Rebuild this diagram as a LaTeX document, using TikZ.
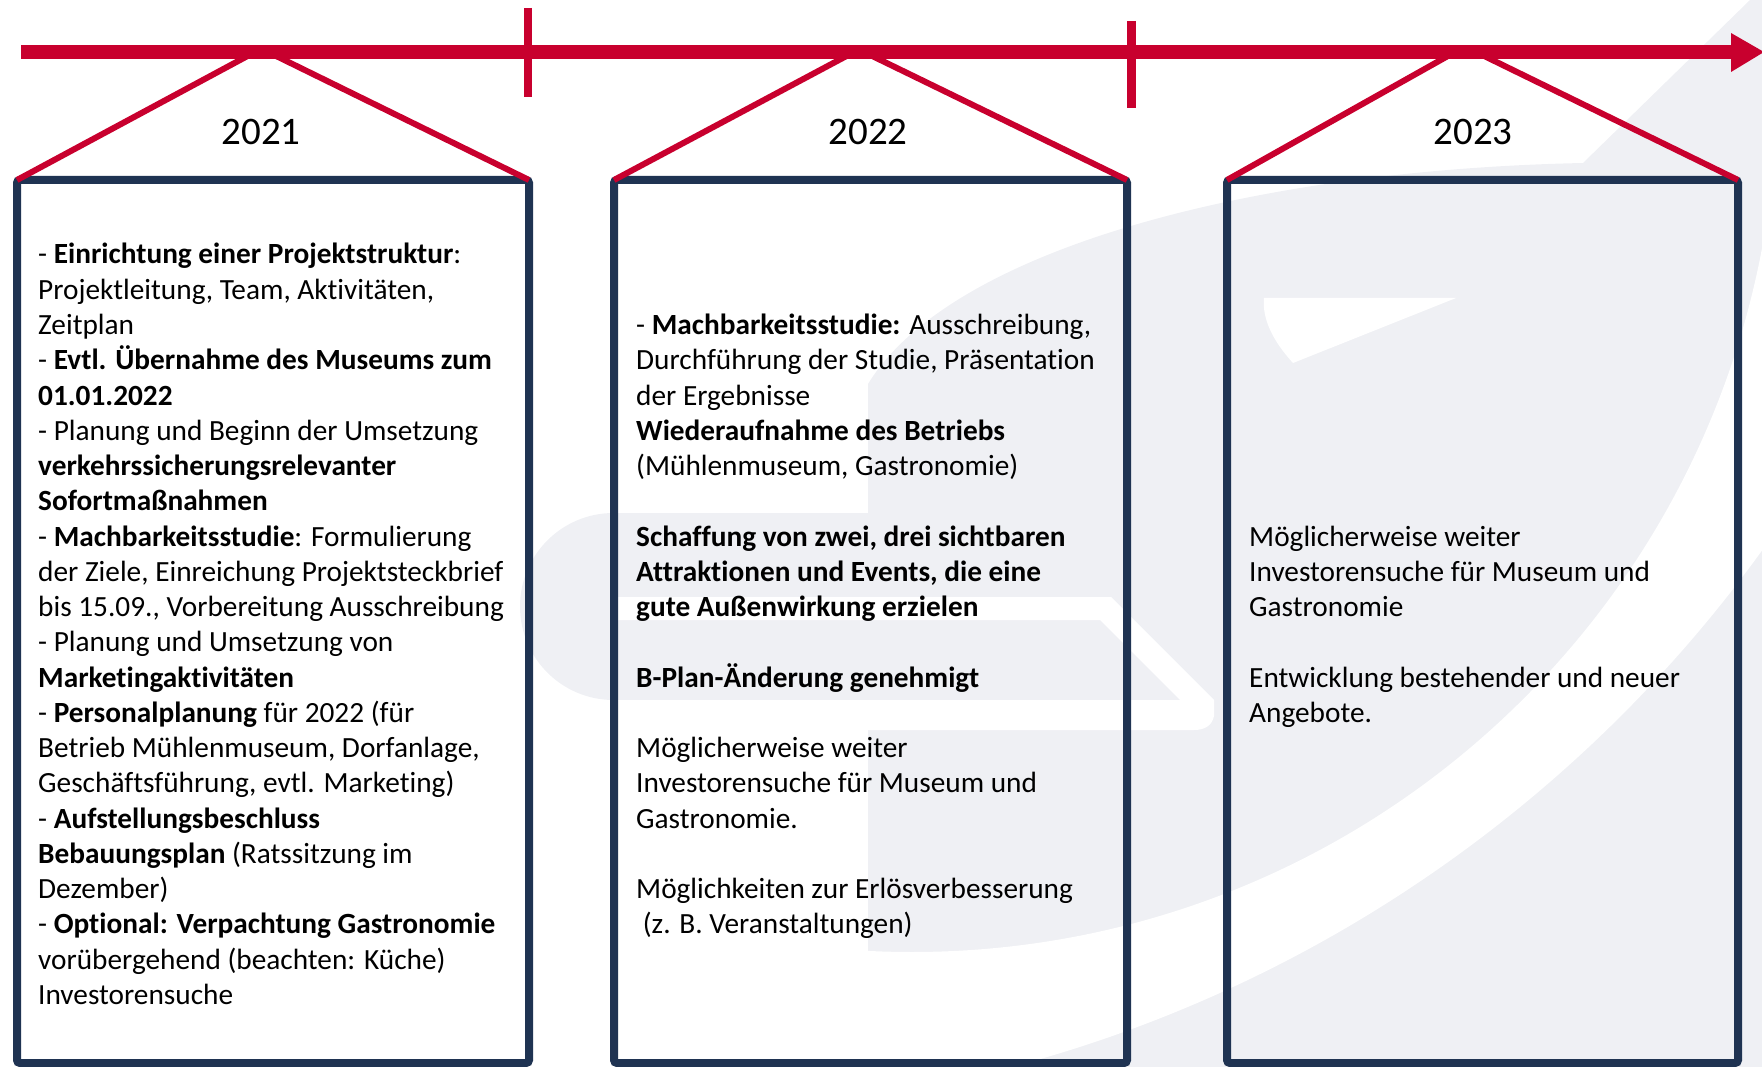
\documentclass[tikz,border=0pt]{standalone}
\usepackage{fontspec}
\setmainfont{Carlito}[Ligatures={NoCommon}]
\definecolor{tlred}{HTML}{C8002E}
\definecolor{navy}{HTML}{1F3352}
\definecolor{wm}{HTML}{EFF0F4}
\newcommand{\Ln}[1]{\hbox{#1}}
\begin{document}
\begin{tikzpicture}[x=1pt,y=-1pt,
  box/.style={draw=navy, line width=8pt, rounded corners=3pt, inner sep=0pt, outer sep=0pt},
  roof/.style={draw=tlred, line width=6pt},
  tickmark/.style={draw=tlred, line width=8.4pt},
  axis/.style={draw=tlred, line width=14pt},
  year/.style={font=\fontsize{39}{47}\selectfont, inner sep=0pt},
  body/.style={font=\fontsize{29.3}{35.26}\selectfont, inner sep=0pt, anchor=base west},
]
\useasboundingbox (0,0) rectangle (1762,1067);
% watermark
\fill[wm] (868,1067) -- (868,384) .. controls (950,250) and (1250,170) .. (1583,163) -- (1750,0) -- (1762,0) -- (1762,1067) -- cycle;
\fill[wm] (613.5,606.5) circle[radius=93.5];
\fill[wm] (613.5,513) rectangle (880,700);
\begin{scope}
  \clip (664,-242) circle[radius=1354];
  \fill[white, even odd rule] (0,0) rectangle (1762,1067) (912,87) circle[radius=865];
\end{scope}
\fill[white] (1264,298) -- (1456,298) -- (1293,363) .. controls (1272,340) and (1262,318) .. (1264,298) -- cycle;
\fill[white] (618,597) -- (1111,597) -- (1214,700) -- (1214,716) .. controls (1212,726) and (1204,730) .. (1194,730) -- (868,730) -- (868,700) -- (1180,700) -- (1100,620) -- (618,620) -- cycle;

% boxes
\node[box, minimum width=512pt, minimum height=883pt] (b1) at (273,621.5) {};
\node[box, minimum width=513pt, minimum height=883pt] (b2) at (870.5,621.5) {};
\node[box, minimum width=511pt, minimum height=883pt] (b3) at (1482.5,621.5) {};

% roofs
\coordinate (a1l) at (255,52); \coordinate (a1r) at (268,52);
\coordinate (a2l) at (854,52); \coordinate (a2r) at (864,52);
\coordinate (a3l) at (1455,52); \coordinate (a3r) at (1476,52);
\draw[roof] (b1.north west) -- (a1l);
\draw[roof] (a1r) -- (b1.north east);
\draw[roof] (b2.north west) -- (a2l);
\draw[roof] (a2r) -- (b2.north east);
\draw[roof] (b3.north west) -- (a3l);
\draw[roof] (a3r) -- (b3.north east);

% timeline
\coordinate (t0) at (21,52);
\coordinate (t1) at (1733,52);
\draw[axis] (t0) -- (t1);
\fill[tlred] (1731,33) -- (1764,52) -- (1731,72) -- cycle;
\coordinate (k1a) at (528,8); \coordinate (k1b) at (528,97);
\coordinate (k2a) at (1131.5,21); \coordinate (k2b) at (1131.5,108);
\draw[tickmark] (k1a) -- (k1b);
\draw[tickmark] (k2a) -- (k2b);

% years
\node[year] (y1) at (261,132) {2021};
\node[year] (y2) at (868,132) {2022};
\node[year] (y3) at (1473,132) {2023};

% texts
\node[body] (t1txt) at (38,264) {\vtop{%
\Ln{- \textbf{Einrichtung einer Projektstruktur}:}
\Ln{Projektleitung, Team, Aktivitäten,}
\Ln{Zeitplan}
\Ln{- \textbf{Evtl. Übernahme des Museums zum}}
\Ln{\textbf{01.01.2022}}
\Ln{- Planung und Beginn der Umsetzung}
\Ln{\textbf{verkehrssicherungsrelevanter}}
\Ln{\textbf{Sofortmaßnahmen}}
\Ln{- \textbf{Machbarkeitsstudie}: Formulierung}
\Ln{der Ziele, Einreichung Projektsteckbrief}
\Ln{bis 15.09., Vorbereitung Ausschreibung}
\Ln{- Planung und Umsetzung von}
\Ln{\textbf{Marketingaktivitäten}}
\Ln{- \textbf{Personalplanung} für 2022 (für}
\Ln{Betrieb Mühlenmuseum, Dorfanlage,}
\Ln{Geschäftsführung, evtl. Marketing)}
\Ln{- \textbf{Aufstellungsbeschluss}}
\Ln{\textbf{Bebauungsplan} (Ratssitzung im}
\Ln{Dezember)}
\Ln{- \textbf{Optional: Verpachtung Gastronomie}}
\Ln{vorübergehend (beachten: Küche)}
\Ln{Investorensuche}}};

\node[body] (t2txt) at (636,334.5) {\vtop{%
\Ln{- \textbf{Machbarkeitsstudie:} Ausschreibung,}
\Ln{Durchführung der Studie, Präsentation}
\Ln{der Ergebnisse}
\Ln{\textbf{Wiederaufnahme des Betriebs}}
\Ln{(Mühlenmuseum, Gastronomie)}
\Ln{}
\Ln{\textbf{Schaffung von zwei, drei sichtbaren}}
\Ln{\textbf{Attraktionen und Events, die eine}}
\Ln{\textbf{gute Außenwirkung erzielen}}
\Ln{}
\Ln{\textbf{B-Plan-Änderung genehmigt}}
\Ln{}
\Ln{Möglicherweise weiter}
\Ln{Investorensuche für Museum und}
\Ln{Gastronomie.}
\Ln{}
\Ln{Möglichkeiten zur Erlösverbesserung}
\Ln{\ (z. B. Veranstaltungen)}}};

\node[body] (t3txt) at (1249,546) {\vtop{%
\Ln{Möglicherweise weiter}
\Ln{Investorensuche für Museum und}
\Ln{Gastronomie}
\Ln{}
\Ln{Entwicklung bestehender und neuer}
\Ln{Angebote.}}};
\end{tikzpicture}
\end{document}
